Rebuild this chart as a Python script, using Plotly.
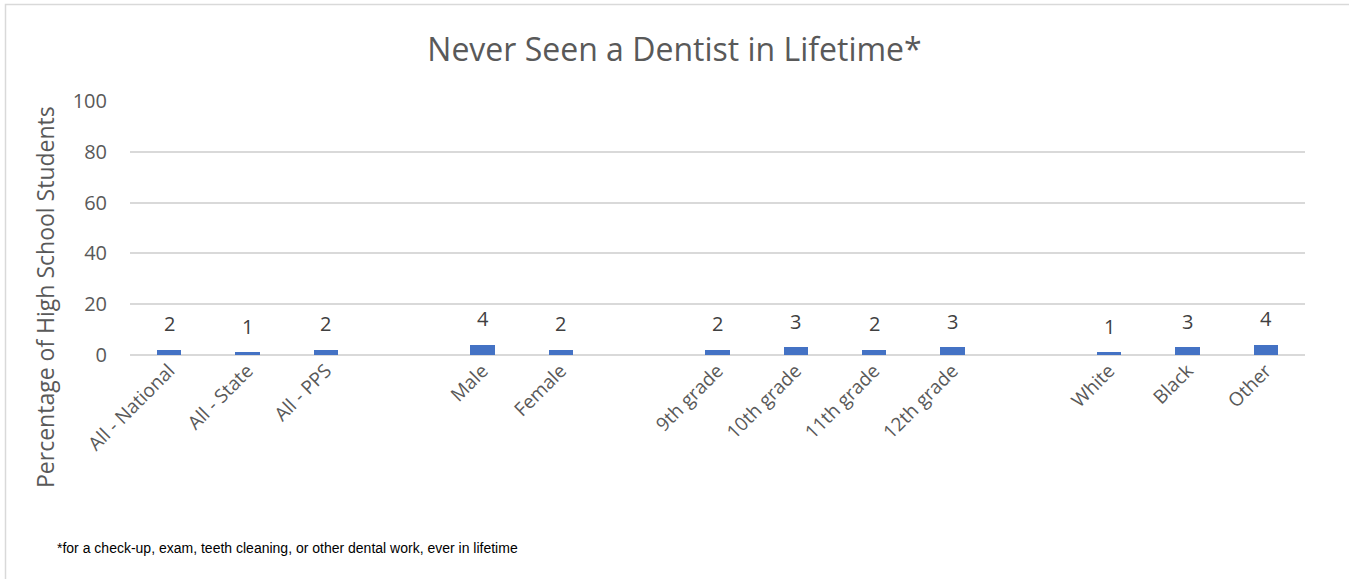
import plotly.graph_objects as go

# Survey result: share of high school students who never saw a dentist
categories = ["All - National", "All - State", "All - PPS",
              "Male", "Female",
              "9th grade", "10th grade", "11th grade", "12th grade",
              "White", "Black", "Other"]
values = [2, 1, 2, 4, 2, 2, 3, 2, 3, 1, 3, 4]
group_sizes = [3, 2, 4, 3]  # Overall, Sex, Grade, Race

# Slot index for each bar, leaving one empty slot between groups
positions = []
slot = 0
for size in group_sizes:
    for _ in range(size):
        positions.append(slot)
        slot += 1
    slot += 1
last_slot = max(positions)

W, H = 1349, 579
L, R, T, B = 130, 44, 101, 224
plot_w = W - L - R
plot_h = H - T - B

FONT = "Open Sans"
GREY = "#595959"

fig = go.Figure(go.Bar(
    x=positions, y=values, width=0.31,
    marker=dict(color="#4472C4", line=dict(width=0)),
    hoverinfo="x+y",
))

annotations = [
    dict(x=p, y=v, xref="x", yref="y", text=str(v), showarrow=False,
         yanchor="middle", yshift=26,
         font=dict(family=FONT, size=20, color="#404040"))
    for p, v in zip(positions, values)
]
annotations.append(dict(
    x=(45 - L) / plot_w, y=(H - B - 297) / plot_h, xref="paper", yref="paper",
    text="Percentage of High School Students", textangle=-90, showarrow=False,
    font=dict(family=FONT, size=23, color=GREY),
    xanchor="center", yanchor="middle"))
annotations.append(dict(
    x=(55 - L) / plot_w, y=(H - B - 548) / plot_h, xref="paper", yref="paper",
    text="*for a check-up, exam, teeth cleaning, or other dental work, ever in lifetime",
    showarrow=False, xanchor="left", yanchor="middle",
    font=dict(family="Liberation Sans", size=14, color="#000000")))

fig.update_layout(
    width=W, height=H,
    margin=dict(l=L, r=R, t=T, b=B),
    paper_bgcolor="white", plot_bgcolor="white",
    title=dict(text="Never Seen a Dentist in Lifetime*", x=0.5, xanchor="center",
               y=1 - 50 / H, yanchor="middle",
               font=dict(family=FONT, size=32, color=GREY)),
    xaxis=dict(range=[-0.5, last_slot + 0.5], tickmode="array",
               tickvals=positions, ticktext=categories, tickangle=-45,
               showgrid=False, zeroline=False, showline=False, ticks="",
               tickfont=dict(family=FONT, size=19, color=GREY)),
    yaxis=dict(range=[0, 100], tickvals=[0, 20, 40, 60, 80, 100],
               showgrid=True, gridcolor="#D9D9D9", gridwidth=1.5,
               zeroline=True, zerolinecolor="#D9D9D9", zerolinewidth=1.5,
               showline=False, ticks="", ticklabelstandoff=22,
               tickfont=dict(family=FONT, size=20, color=GREY)),
    annotations=annotations,
    shapes=[dict(type="rect", xref="paper", yref="paper",
                 x0=(5.5 - L) / plot_w, x1=(W + 20 - L) / plot_w,
                 y0=(H - B - (H + 20)) / plot_h, y1=(H - B - 4.5) / plot_h,
                 line=dict(color="#D9D9D9", width=1.5), fillcolor="rgba(0,0,0,0)",
                 layer="below")],
    showlegend=False,
    bargap=0,
)

fig.write_html("out.html")
